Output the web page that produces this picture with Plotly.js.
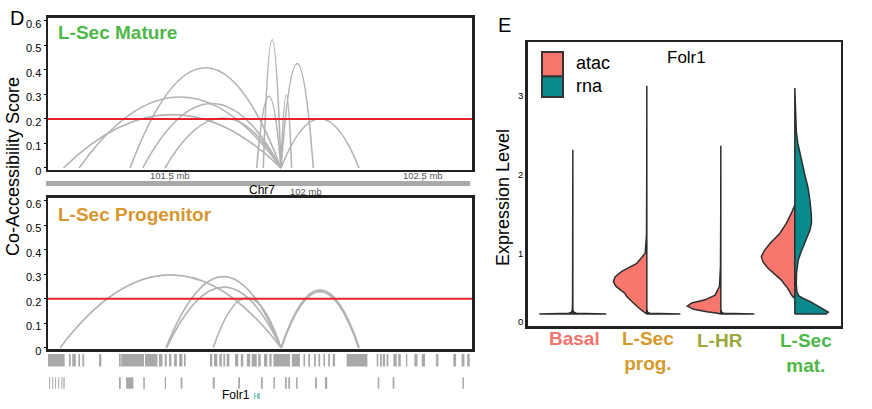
<!DOCTYPE html>
<html><head><meta charset="utf-8">
<script src="https://cdn.plot.ly/plotly-3.0.1.min.js"></script>
<style>html,body{margin:0;padding:0;background:#fff}#chart{width:872px;height:409px}</style>
</head><body><div id="chart"></div>
<script>
// ---------------- DATA ----------------
// Co-accessibility links (positions in mb on Chr7, score = arc height)
const matureStart = [101.078, 101.140, 101.342, 101.392, 101.480, 101.843, 101.869, 101.939, 101.939, 101.939];
const matureEnd   = [101.939, 101.939, 101.939, 101.939, 101.939, 101.939, 101.939, 101.981, 102.067, 102.248];
const matureScore = [0.218, 0.290, 0.409, 0.263, 0.204, 0.293, 0.523, 0.297, 0.426, 0.201];

const progStart = [101.065, 101.484, 101.487, 101.671, 101.939, 101.941];
const progEnd   = [101.939, 101.939, 101.939, 101.939, 102.249, 102.246];
const progScore = [0.297, 0.290, 0.247, 0.204, 0.236, 0.229];

const cutoff = 0.2;
const scoreTicks = [0, 0.1, 0.2, 0.3, 0.4, 0.5, 0.6];
const scoreTickText = ['0', '0.1', '0.2', '0.3', '0.4', '0.5', '0.6'];
const genomeTicks = [101.5, 102.5];
const genomeTickText = ['101.5 mb', '102.5 mb'];

// Peak track (row 1) and second track (row 2), start/end in mb
const peak1Start = [101.017,101.100,101.113,101.137,101.153,101.219,101.298,101.307,101.401,101.456,101.479,101.496,101.516,101.536,101.555,
  101.658,101.674,101.695,101.711,101.724,101.757,101.780,101.804,101.823,101.849,101.872,101.893,101.909,101.982,102.028,102.047,102.070,
  102.087,102.107,102.126,102.144,102.199,102.318,102.331,102.342,102.357,102.384,102.403,102.434,102.467,102.496,102.553,102.621,102.654,102.676];
const peak1End = [101.083,101.107,101.127,101.144,101.160,101.228,101.305,101.397,101.450,101.470,101.487,101.505,101.527,101.549,101.562,
  101.667,101.687,101.705,101.718,101.735,101.770,101.790,101.817,101.843,101.859,101.885,101.902,101.975,102.014,102.034,102.054,102.077,
  102.094,102.113,102.133,102.153,102.281,102.324,102.338,102.351,102.364,102.397,102.413,102.439,102.479,102.509,102.562,102.632,102.665,102.686];
const peak2Start = [101.021,101.034,101.045,101.057,101.070,101.078,101.298,101.326,101.394,101.479,101.542,101.669,101.770,101.860,101.909,
  101.955,101.968,101.999,102.074,102.113,102.322,102.381,102.657];
const peak2End = [101.025,101.038,101.049,101.061,101.074,101.083,101.305,101.355,101.400,101.484,101.549,101.677,101.777,101.867,101.915,
  101.962,101.975,102.005,102.081,102.122,102.328,102.388,102.663];
const geneName = 'Folr1';
const geneExonStart = [101.832, 101.844];
const geneExonEnd   = [101.838, 101.856];

// Split violins: expression level (y) and relative half width (w)
const groups = ['Basal', 'L-Sec prog.', 'L-HR', 'L-Sec mat.'];
const groupLabels = ['Basal', 'L-Sec<br>prog.', 'L-HR', 'L-Sec<br>mat.'];
const groupColors = ['#F2746E', '#D49A2A', '#9AA83A', '#4DB848'];
const atacY = [
  [0.24, 0.25, 0.265, 0.29, 0.40, 2.32],
  [0.24, 0.27, 0.31, 0.38, 0.46, 0.50, 0.59, 0.65, 0.71, 0.78, 0.88, 1.01, 1.24, 2.0, 3.13],
  [0.24, 0.25, 0.27, 0.30, 0.34, 0.38, 0.42, 0.48, 0.59, 0.84, 1.5, 2.37],
  [0.44, 0.46, 0.50, 0.52, 0.59, 0.61, 0.67, 0.71, 0.82, 0.90, 0.97, 1.05, 1.14, 1.26, 1.39, 1.52, 1.62]
];
const atacW = [
  [1.0, 0.12, 0.04, 0.015, 0.008, 0],
  [0, 0.10, 0.22, 0.40, 0.60, 0.65, 0.92, 1.0, 0.95, 0.75, 0.30, 0.05, 0.01, 0.003, 0],
  [0, 0.09, 0.42, 0.81, 1.0, 0.87, 0.47, 0.17, 0.04, 0.01, 0.003, 0],
  [0, 0.06, 0.13, 0.15, 0.25, 0.30, 0.40, 0.50, 0.80, 0.95, 1.0, 0.90, 0.73, 0.45, 0.25, 0.10, 0]
];
const rnaY = [
  [0.24, 0.25, 0.265, 0.29],
  [0.24, 0.25, 0.265, 0.29],
  [0.24, 0.25, 0.265, 0.29],
  [0.24, 0.265, 0.33, 0.40, 0.44, 0.47, 0.52, 0.62, 0.76, 0.92, 1.02, 1.18, 1.30, 1.40, 1.52, 1.68, 1.85, 2.00, 2.18, 2.40, 2.55, 2.80, 3.10]
];
const rnaW = [
  [1.0, 0.10, 0.03, 0],
  [1.0, 0.08, 0.02, 0],
  [1.0, 0.08, 0.02, 0],
  [0.93, 1.0, 0.75, 0.45, 0.24, 0.12, 0.06, 0.045, 0.05, 0.10, 0.18, 0.33, 0.45, 0.50, 0.49, 0.45, 0.39, 0.30, 0.20, 0.09, 0.045, 0.015, 0]
];
const exprTicks = [0.143, 1, 2, 3];
const exprTickText = ['0', '1', '2', '3'];
const assays = ['atac', 'rna'];
const assayColors = ['#F8766D', '#0A8A8C'];

// ---------------- LAYOUT HELPERS ----------------
const W = 872, H = 409;
const px = x => x / W;
const py = y => 1 - y / H;
const FONT = 'Liberation Sans, Arial, sans-serif';
const halfWidth = 0.4527;
const arcColor = '#B3B3B3';

const shapes = [];
const annotations = [];
const traces = [];

function addArcs(starts, ends, scores, xr, yr) {
  for (let i = 0; i < starts.length; i++) {
    const mid = (starts[i] + ends[i]) / 2;
    shapes.push({type: 'path', xref: xr, yref: yr,
      path: `M ${starts[i]},0 Q ${mid},${2 * scores[i]} ${ends[i]},0`,
      line: {color: arcColor, width: 1.6}});
  }
  shapes.push({type: 'line', xref: xr + ' domain', yref: yr, x0: 0, x1: 1, y0: cutoff, y1: cutoff,
    line: {color: '#E5242A', width: 2}});
}
addArcs(matureStart, matureEnd, matureScore, 'x', 'y');
addArcs(progStart, progEnd, progScore, 'x2', 'y2');

// peak tracks
function addPeaks(s, e, y0, y1) {
  for (let i = 0; i < s.length; i++) {
    shapes.push({type: 'rect', xref: 'x2', yref: 'paper', x0: s[i], x1: e[i], y0: py(y1), y1: py(y0),
      line: {width: 0}, fillcolor: '#A8A8A8'});
  }
}
addPeaks(peak1Start, peak1End, 354, 366.5);
addPeaks(peak2Start, peak2End, 377.3, 388.7);
for (let i = 0; i < geneExonStart.length; i++) {
  shapes.push({type: 'rect', xref: 'x2', yref: 'paper', x0: geneExonStart[i], x1: geneExonEnd[i],
    y0: py(399), y1: py(393), line: {width: 0}, fillcolor: '#8ED1C4'});
}
shapes.push({type: 'line', xref: 'x2', yref: 'paper', x0: geneExonStart[0], x1: geneExonEnd[1], y0: py(396), y1: py(396),
  line: {color: '#8ED1C4', width: 1}});
annotations.push({xref: 'paper', yref: 'paper', x: px(235.5), y: py(395), text: geneName, showarrow: false,
  xanchor: 'center', yanchor: 'middle', font: {family: FONT, size: 12, color: '#000'}});

// chromosome ideogram bar
shapes.push({type: 'rect', xref: 'paper', yref: 'paper', x0: px(46), x1: px(470), y0: py(186), y1: py(181),
  line: {width: 0}, fillcolor: '#A9A9A9'});
genomeTicks.forEach((g, i) => {
  shapes.push({type: 'line', xref: 'x', yref: 'paper', x0: g, x1: g, y0: py(181), y1: py(178.5),
    line: {color: '#A9A9A9', width: 1.2}});
  annotations.push({xref: 'x', yref: 'paper', x: g, y: py(175.5), text: genomeTickText[i], showarrow: false,
    xanchor: 'center', yanchor: 'middle', font: {family: FONT, size: 9.5, color: '#555'}});
});
annotations.push({xref: 'paper', yref: 'paper', x: px(262), y: py(190), text: 'Chr7', showarrow: false,
  xanchor: 'center', yanchor: 'middle', font: {family: FONT, size: 12, color: '#000'}});
annotations.push({xref: 'x', yref: 'paper', x: 102.0, y: py(191.5), text: '102 mb', showarrow: false, xshift: 10,
  xanchor: 'center', yanchor: 'middle', font: {family: FONT, size: 9.5, color: '#555'}});

// panel titles
annotations.push({xref: 'paper', yref: 'paper', x: px(56), y: py(33), text: '<b>L-Sec Mature</b>', showarrow: false,
  xanchor: 'left', yanchor: 'middle', font: {family: FONT, size: 19, color: '#4DB848'}});
annotations.push({xref: 'paper', yref: 'paper', x: px(56), y: py(214), text: '<b>L-Sec Progenitor</b>', showarrow: false,
  xanchor: 'left', yanchor: 'middle', font: {family: FONT, size: 19, color: '#D8962E'}});
annotations.push({xref: 'paper', yref: 'paper', x: px(13), y: py(167), text: 'Co-Accessibility Score', showarrow: false,
  textangle: -90, xanchor: 'center', yanchor: 'middle', font: {family: FONT, size: 18, color: '#000'}});
annotations.push({xref: 'paper', yref: 'paper', x: px(17), y: py(18), text: 'D', showarrow: false,
  xanchor: 'center', yanchor: 'middle', font: {family: FONT, size: 20, color: '#000'}});
annotations.push({xref: 'paper', yref: 'paper', x: px(504), y: py(25), text: 'E', showarrow: false,
  xanchor: 'center', yanchor: 'middle', font: {family: FONT, size: 20, color: '#000'}});

// violins
function halfPoly(c, ys, ws, sign) {
  const xs = [c], yy = [ys[0]];
  for (let i = 0; i < ys.length; i++) { xs.push(c + sign * halfWidth * ws[i]); yy.push(ys[i]); }
  xs.push(c); yy.push(ys[ys.length - 1]);
  xs.push(c); yy.push(ys[0]);
  return {xs, yy};
}
groups.forEach((g, i) => {
  const c = i + 1;
  const a = halfPoly(c, atacY[i], atacW[i], -1);
  const r = halfPoly(c, rnaY[i], rnaW[i], 1);
  traces.push({type: 'scatter', mode: 'lines', x: a.xs, y: a.yy, fill: 'toself', fillcolor: assayColors[0],
    line: {color: '#2E2E2E', width: 1.5}, xaxis: 'x3', yaxis: 'y3', showlegend: false, hoverinfo: 'skip', name: g + ' atac'});
  traces.push({type: 'scatter', mode: 'lines', x: r.xs, y: r.yy, fill: 'toself', fillcolor: assayColors[1],
    line: {color: '#2E2E2E', width: 1.5}, xaxis: 'x3', yaxis: 'y3', showlegend: false, hoverinfo: 'skip', name: g + ' rna'});
});
const labelShift = [2, 1, -1, 11];
const labelTop = [325.5, 325.5, 327.5, 327.5];
groupLabels.forEach((t, i) => {
  annotations.push({xref: 'x3', yref: 'paper', x: i + 1, xshift: labelShift[i], y: py(labelTop[i]), text: '<b>' + t + '</b>',
    showarrow: false, xanchor: 'center', yanchor: 'top', font: {family: FONT, size: 19, color: groupColors[i]}});
});
// legend
assays.forEach((a, i) => {
  const top = i === 0 ? 52 : 76.5;
  const bot = i === 0 ? 76.5 : 97;
  shapes.push({type: 'rect', xref: 'paper', yref: 'paper', x0: px(542), x1: px(563), y0: py(bot), y1: py(top),
    fillcolor: assayColors[i], line: {color: '#333', width: 2}});
  annotations.push({xref: 'paper', yref: 'paper', x: px(574), y: py(i === 0 ? 63 : 86), text: a, showarrow: false,
    xanchor: 'left', yanchor: 'middle', font: {family: FONT, size: 18, color: '#000'}});
});
annotations.push({xref: 'paper', yref: 'paper', x: px(686), y: py(57), text: 'Folr1', showarrow: false,
  xanchor: 'center', yanchor: 'middle', font: {family: FONT, size: 17, color: '#000'}});
annotations.push({xref: 'paper', yref: 'paper', x: px(502.5), y: py(197.5), text: 'Expression Level', showarrow: false,
  textangle: -90, xanchor: 'center', yanchor: 'middle', font: {family: FONT, size: 18, color: '#000'}});

const genomeRange = [101.017, 102.695];
const scoreRange = [-0.007, 0.613];
const boxLine = {showline: true, mirror: true, linecolor: '#222', linewidth: 2.5, zeroline: false, showgrid: false};

const layout = {
  width: W, height: H, margin: {l: 0, r: 0, t: 0, b: 0}, paper_bgcolor: '#fff', plot_bgcolor: '#fff',
  showlegend: false, font: {family: FONT},
  xaxis: Object.assign({domain: [px(48), px(472)], range: genomeRange, showticklabels: false, ticks: '', anchor: 'y'}, boxLine),
  yaxis: Object.assign({domain: [py(169.7), py(17.8)], range: scoreRange, tickvals: scoreTicks, ticktext: scoreTickText,
    ticks: 'outside', ticklen: 2, tickcolor: '#000', ticklabelshift: 3, tickfont: {size: 11, color: '#000'}, anchor: 'x'}, boxLine),
  xaxis2: Object.assign({domain: [px(48), px(472)], range: genomeRange, showticklabels: false, ticks: '', anchor: 'y2'}, boxLine),
  yaxis2: Object.assign({domain: [py(349.4), py(197.5)], range: scoreRange, tickvals: scoreTicks, ticktext: scoreTickText,
    ticks: 'outside', ticklen: 2, tickcolor: '#000', ticklabelshift: 3, tickfont: {size: 11, color: '#000'}, anchor: 'x2'}, boxLine),
  xaxis3: Object.assign({domain: [px(527.7), px(840.7)], range: [0.39, 4.62], showticklabels: false, ticks: '', anchor: 'y3'}, boxLine),
  yaxis3: Object.assign({domain: [py(326), py(42.3)], range: [0.0886, 3.68], tickvals: exprTicks, ticktext: exprTickText,
    ticks: '', tickfont: {size: 9.5, color: '#000'}, anchor: 'x3'}, boxLine),
  shapes: shapes, annotations: annotations
};
Plotly.newPlot('chart', traces, layout, {displayModeBar: false, staticPlot: true});
</script>
</body></html>
